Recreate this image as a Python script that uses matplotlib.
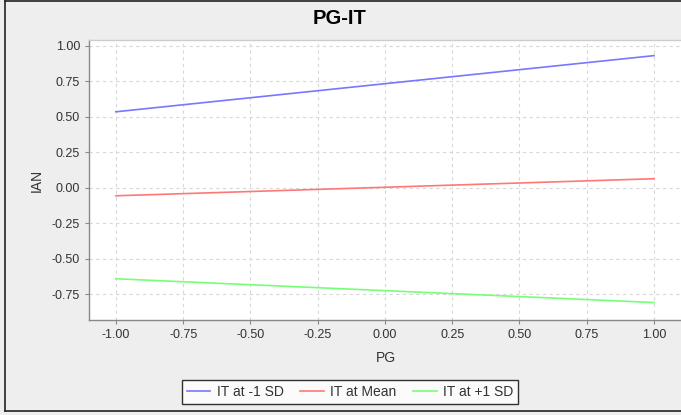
import matplotlib
matplotlib.use("Agg")
import matplotlib.pyplot as plt
from matplotlib.lines import Line2D

plt.rcParams['font.family'] = ['Liberation Sans', 'DejaVu Sans']

x_vals = [-1.0, 1.0]
it_minus = [0.535, 0.93]
it_mean = [-0.056, 0.064]
it_plus = [-0.64, -0.807]
series_labels = ["IT at -1 SD", "IT at Mean", "IT at +1 SD"]
series_colors = ["#7777ff", "#ff7777", "#77ff77"]
xticks = [-1.0, -0.75, -0.5, -0.25, 0.0, 0.25, 0.5, 0.75, 1.0]
yticks = [1.0, 0.75, 0.5, 0.25, 0.0, -0.25, -0.5, -0.75]

W, H = 681, 415
fig = plt.figure(figsize=(W/100, H/100), dpi=100)
fig.patch.set_facecolor("#eeeeee")

def px(x0, y0, x1, y1):
    return [x0/W, 1 - y1/H, (x1-x0)/W, (y1-y0)/H]

ax = fig.add_axes(px(89, 40, 682, 320))
ax.set_facecolor("white")
for ys, lab, col in zip([it_minus, it_mean, it_plus], series_labels, series_colors):
    ax.plot(x_vals, ys, color=col, lw=1.2, label=lab)

ax.set_xlim(-1.1, 1.104)
ax.set_ylim(-0.93, 1.04)
ax.set_xticks(xticks)
ax.set_xticklabels([f"{v:.2f}" for v in xticks])
ax.set_yticks(yticks)
ax.set_yticklabels([f"{v:.2f}" for v in yticks])
ax.grid(True, color="#d8d8d8", ls=(0, (3, 3)), lw=0.8)
ax.set_axisbelow(True)
for s in ax.spines.values():
    s.set_color("#888888")
    s.set_linewidth(1.0)
ax.spines["top"].set_color("#cccccc")
ax.spines["right"].set_visible(False)
ax.tick_params(colors="#888888", labelcolor="#333333", labelsize=9, length=3, width=0.8)
ax.set_xlabel("PG", fontsize=10, color="#333333", labelpad=7)
ax.set_ylabel("IAN", fontsize=10, color="#333333", labelpad=6)

fig.text(340/W, 1 - 19/H, "PG-IT", ha="center", va="center", fontsize=14.5, fontweight="bold")

leg = fig.legend(loc="center", bbox_to_anchor=(350/W, 1 - 392/H), ncol=3, frameon=True,
                 fontsize=10, handlelength=1.7, handletextpad=0.45, columnspacing=1.2,
                 borderpad=0.35, borderaxespad=0.2, fancybox=False)
leg.get_frame().set_edgecolor("black")
leg.get_frame().set_linewidth(1.0)
leg.get_frame().set_facecolor("white")
for t in leg.get_texts():
    t.set_color("#333333")

def fline(xs, ys):
    fig.add_artist(Line2D([x/W for x in xs], [1 - y/H for y in ys], transform=fig.transFigure,
                          color="#222222", lw=1.2))
fline([5, 681], [1, 1])
fline([5, 5], [1, 411])
fline([5, 681], [411, 411])

fig.savefig("out.png", dpi=100, facecolor=fig.get_facecolor())
